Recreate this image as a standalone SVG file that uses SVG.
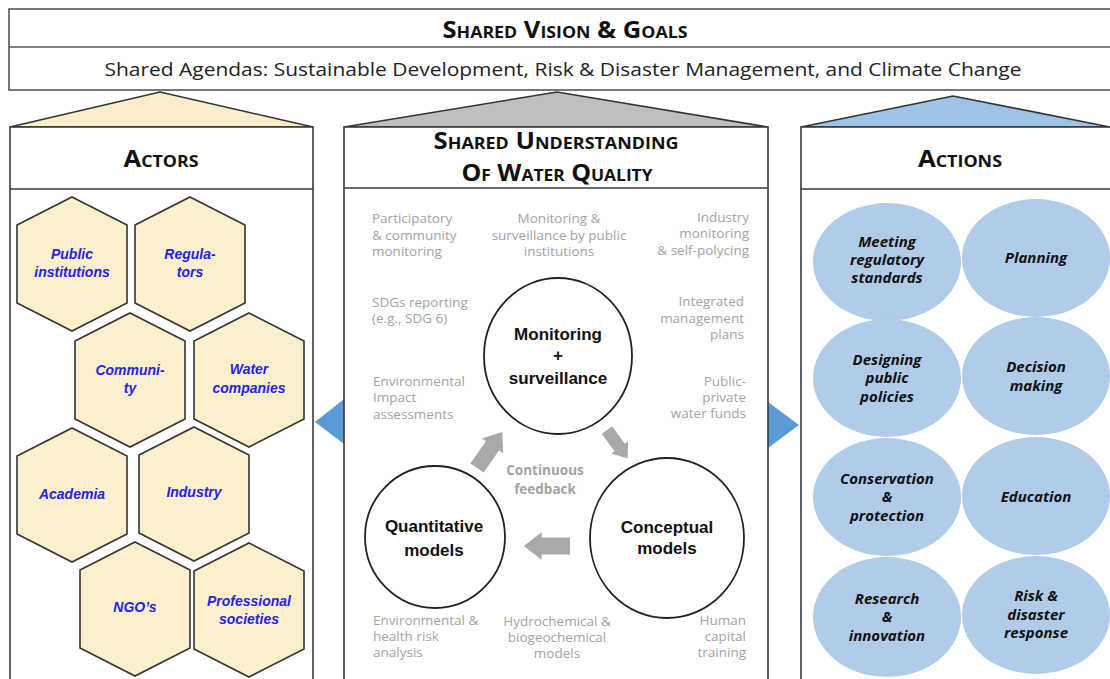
<svg xmlns="http://www.w3.org/2000/svg" width="1110" height="679" viewBox="0 0 1110 679">
<style>
.frame{fill:#fff;stroke:#3a3a3a;stroke-width:1.6}
.topframe{fill:#fff;stroke:#555;stroke-width:1.6}
.hdr{font-family:"Open Sans","Liberation Sans",sans-serif;font-weight:bold;fill:#111;font-variant:small-caps;text-anchor:middle}
.hex{fill:#FCEFCB;stroke:#333;stroke-width:1.6}
.htxt{font-family:"Liberation Sans",Arial,sans-serif;font-weight:bold;font-style:italic;font-size:14px;fill:#2323E8;text-anchor:middle}
.ell{fill:#B0CCE9}
.etxt{font-family:"Open Sans","Liberation Sans",sans-serif;font-weight:bold;font-style:italic;font-size:15px;fill:#111;text-anchor:middle}
.g{font-family:"Open Sans","Liberation Sans",sans-serif;font-size:13.5px;fill:#A3A3A3}
.circ{fill:#fff;stroke:#222;stroke-width:1.8}
.ctxt{font-family:"Liberation Sans",Arial,sans-serif;font-weight:bold;font-size:17px;fill:#111;text-anchor:middle}
.arr{fill:#A9A9A9}
</style>
<defs>
<polygon id="hexshape" points="0,-67 55,-39 55,39 0,67 -55,39 -55,-39"/>
<polygon id="blockarrow" points="0,-8 27,-8 27,-13 44,0 27,13 27,8 0,8"/>
</defs>
<rect width="1110" height="679" fill="#fff"/>

<g id="shared-vision">
<rect class="topframe" x="9" y="9" width="1110" height="81"/>
<line x1="9" y1="47" x2="1110" y2="47" stroke="#555" stroke-width="1.6"/>
<text class="hdr" x="565" y="38" font-size="23" textLength="245" lengthAdjust="spacingAndGlyphs">Shared Vision &amp; Goals</text>
<text x="563" y="76" font-family="'Open Sans','Liberation Sans',sans-serif" font-size="19" fill="#222" text-anchor="middle" textLength="917" lengthAdjust="spacingAndGlyphs">Shared Agendas: Sustainable Development, Risk &amp; Disaster Management, and Climate Change</text>
</g>

<g id="connectors">
<polygon points="10,127 160,92 313,127" fill="#FCEECB" stroke="#333" stroke-width="1.6"/>
<polygon points="344,127 557,92 768,127" fill="#BFBFBF" stroke="#333" stroke-width="1.6"/>
<polygon points="801,127 953,96 1110,127 1110,127" fill="#9DC3E6" stroke="#333" stroke-width="1.6"/>
<polygon points="315,422 344,399 344,444" fill="#5B9BD5"/>
<polygon points="799,425 768,402 768,448" fill="#5B9BD5"/>
</g>

<g id="actors">
<rect class="frame" x="10" y="127" width="303" height="560"/>
<line x1="10" y1="189" x2="313" y2="189" stroke="#3a3a3a" stroke-width="1.6"/>
<text class="hdr" x="161" y="167" font-size="23" textLength="75" lengthAdjust="spacingAndGlyphs">Actors</text>
</g>

<g id="hex-public"><use href="#hexshape" class="hex" x="72" y="264"/><text class="htxt"><tspan x="72" y="259">Public</tspan><tspan x="72" y="277">institutions</tspan></text></g>
<g id="hex-regulators"><use href="#hexshape" class="hex" x="190" y="264"/><text class="htxt"><tspan x="190" y="259">Regula-</tspan><tspan x="190" y="277">tors</tspan></text></g>
<g id="hex-community"><use href="#hexshape" class="hex" x="130" y="380"/><text class="htxt"><tspan x="130" y="375">Communi-</tspan><tspan x="130" y="393">ty</tspan></text></g>
<g id="hex-water"><use href="#hexshape" class="hex" x="249" y="380"/><text class="htxt"><tspan x="249" y="374">Water</tspan><tspan x="249" y="393">companies</tspan></text></g>
<g id="hex-academia"><use href="#hexshape" class="hex" x="72" y="495"/><text class="htxt" x="72" y="499">Academia</text></g>
<g id="hex-industry"><use href="#hexshape" class="hex" x="194" y="494"/><text class="htxt" x="194" y="497">Industry</text></g>
<g id="hex-ngo"><use href="#hexshape" class="hex" x="135" y="609"/><text class="htxt" x="135" y="612">NGO’s</text></g>
<g id="hex-prof"><use href="#hexshape" class="hex" x="249" y="610"/><text class="htxt"><tspan x="249" y="606">Professional</tspan><tspan x="249" y="624">societies</tspan></text></g>

<g id="understanding">
<rect class="frame" x="344" y="127" width="424" height="560"/>
<line x1="344" y1="188" x2="768" y2="188" stroke="#3a3a3a" stroke-width="1.6"/>
<text class="hdr" x="556" y="149" font-size="23" textLength="245" lengthAdjust="spacingAndGlyphs">Shared Understanding</text>
<text class="hdr" x="557" y="181" font-size="23" textLength="191" lengthAdjust="spacingAndGlyphs">Of Water Quality</text>
<text class="g"><tspan x="372" y="223">Participatory</tspan><tspan x="372" y="240">&amp; community</tspan><tspan x="372" y="256">monitoring</tspan></text>
<text class="g" text-anchor="middle"><tspan x="559" y="223">Monitoring &amp;</tspan><tspan x="559" y="240">surveillance by public</tspan><tspan x="559" y="256">institutions</tspan></text>
<text class="g" text-anchor="end"><tspan x="749" y="222">Industry</tspan><tspan x="749" y="238">monitoring</tspan><tspan x="749" y="255">&amp; self-polycing</tspan></text>
<text class="g"><tspan x="372" y="307">SDGs reporting</tspan><tspan x="372" y="323">(e.g., SDG 6)</tspan></text>
<text class="g" text-anchor="end"><tspan x="744" y="306">Integrated</tspan><tspan x="744" y="323">management</tspan><tspan x="744" y="339">plans</tspan></text>
<text class="g"><tspan x="373" y="386">Environmental</tspan><tspan x="373" y="402">Impact</tspan><tspan x="373" y="419">assessments</tspan></text>
<text class="g" text-anchor="end"><tspan x="746" y="386">Public-</tspan><tspan x="746" y="402">private</tspan><tspan x="746" y="418">water funds</tspan></text>
<text class="g"><tspan x="373" y="625">Environmental &amp;</tspan><tspan x="373" y="641">health risk</tspan><tspan x="373" y="657">analysis</tspan></text>
<text class="g" text-anchor="middle"><tspan x="557" y="626">Hydrochemical &amp;</tspan><tspan x="557" y="642">biogeochemical</tspan><tspan x="557" y="658">models</tspan></text>
<text class="g" text-anchor="end"><tspan x="746" y="625">Human</tspan><tspan x="746" y="641">capital</tspan><tspan x="746" y="657">training</tspan></text>
<text class="g" text-anchor="middle" font-weight="bold"><tspan x="545" y="475">Continuous</tspan><tspan x="545" y="494">feedback</tspan></text>
</g>

<g id="cycle-arrows">
<use href="#blockarrow" class="arr" transform="translate(477,468) rotate(-55)"/>
<use href="#blockarrow" class="arr" transform="translate(607,430) rotate(54) scale(0.8)"/>
<use href="#blockarrow" class="arr" transform="translate(570,546) rotate(180) scale(1.05)"/>
</g>

<g id="monitoring"><ellipse class="circ" cx="558" cy="356" rx="74" ry="78"/><text class="ctxt"><tspan x="558" y="340">Monitoring</tspan><tspan x="558" y="361">+</tspan><tspan x="558" y="384">surveillance</tspan></text></g>
<g id="quantitative"><ellipse class="circ" cx="435" cy="537" rx="70" ry="71"/><text class="ctxt"><tspan x="434" y="532">Quantitative</tspan><tspan x="434" y="556">models</tspan></text></g>
<g id="conceptual"><ellipse class="circ" cx="667" cy="538" rx="77" ry="80"/><text class="ctxt"><tspan x="667" y="533">Conceptual</tspan><tspan x="667" y="554">models</tspan></text></g>

<g id="actions">
<rect class="frame" x="801" y="127" width="320" height="560"/>
<line x1="801" y1="189" x2="1110" y2="189" stroke="#3a3a3a" stroke-width="1.6"/>
<text class="hdr" x="960" y="167" font-size="23" textLength="84" lengthAdjust="spacingAndGlyphs">Actions</text>
</g>

<g id="act-meeting"><ellipse class="ell" cx="887" cy="262" rx="74" ry="59"/><text class="etxt"><tspan x="887" y="247">Meeting</tspan><tspan x="887" y="265">regulatory</tspan><tspan x="887" y="283">standards</tspan></text></g>
<g id="act-planning"><ellipse class="ell" cx="1036" cy="258" rx="74" ry="59"/><text class="etxt" x="1036" y="263">Planning</text></g>
<g id="act-designing"><ellipse class="ell" cx="887" cy="378" rx="74" ry="59"/><text class="etxt"><tspan x="887" y="365">Designing</tspan><tspan x="887" y="383">public</tspan><tspan x="887" y="402">policies</tspan></text></g>
<g id="act-decision"><ellipse class="ell" cx="1036" cy="376" rx="74" ry="59"/><text class="etxt"><tspan x="1036" y="372">Decision</tspan><tspan x="1036" y="391">making</tspan></text></g>
<g id="act-conservation"><ellipse class="ell" cx="887" cy="497" rx="74" ry="59"/><text class="etxt"><tspan x="887" y="484">Conservation</tspan><tspan x="887" y="502">&amp;</tspan><tspan x="887" y="521">protection</tspan></text></g>
<g id="act-education"><ellipse class="ell" cx="1036" cy="496" rx="74" ry="59"/><text class="etxt" x="1036" y="502">Education</text></g>
<g id="act-research"><ellipse class="ell" cx="887" cy="617" rx="74" ry="60"/><text class="etxt"><tspan x="887" y="604">Research</tspan><tspan x="887" y="622">&amp;</tspan><tspan x="887" y="641">innovation</tspan></text></g>
<g id="act-risk"><ellipse class="ell" cx="1036" cy="615" rx="74" ry="59"/><text class="etxt"><tspan x="1036" y="601">Risk &amp;</tspan><tspan x="1036" y="620">disaster</tspan><tspan x="1036" y="638">response</tspan></text></g>
</svg>
